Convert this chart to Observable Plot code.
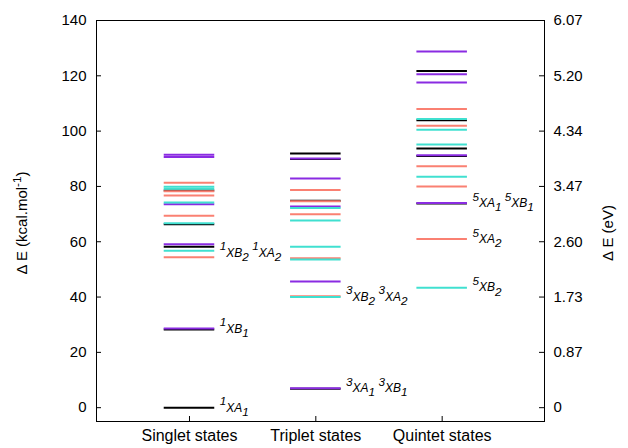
<!DOCTYPE html>
<html><head><meta charset="utf-8">
<script src="https://cdn.jsdelivr.net/npm/d3@7"></script>
<script src="https://cdn.jsdelivr.net/npm/@observablehq/plot@0.6"></script>
<style>body{margin:0;background:#fff}</style>
</head><body><div id="chart"></div>
<script>
// Categories (x positions 1,2,3)
const categories = ["Singlet states", "Triplet states", "Quintet states"];
const stateX = [1, 2, 3];

// Left axis ticks (kcal/mol) and right axis tick labels (eV)
const kcalTicks = [0, 20, 40, 60, 80, 100, 120, 140];
const eVTickLabels = ["0", "0.87", "1.73", "2.60", "3.47", "4.34", "5.20", "6.07"];

// Energy levels (kcal/mol) by spin state and symmetry
const singletA1 = [0, 28.3, 58.2, 66.3, 78.5];
const singletA2 = [54.4, 69.4, 76.7, 78.3, 81.3];
const singletB1 = [28.6, 59.1, 73.6, 90.6, 91.5];
const singletB2 = [56.7, 66.7, 74.2, 79.2, 79.9];

const tripletA1 = [6.8, 74.8, 89.9, 91.9];
const tripletA2 = [40.3, 54.0, 69.9, 74.6, 78.7];
const tripletB1 = [7.0, 45.6, 72.7, 82.9, 90.1];
const tripletB2 = [40.0, 53.6, 58.2, 67.7, 72.2];

const quintetA1 = [73.8, 91.0, 93.7, 103.9, 121.7];
const quintetA2 = [61.0, 80.0, 87.3, 101.9, 108.0];
const quintetB1 = [74.0, 91.3, 117.6, 120.6, 128.8];
const quintetB2 = [43.4, 83.5, 95.2, 100.5, 104.4];

// State labels
const labelText = ["¹XA₁", "¹XB₁", "¹XB₂ ¹XA₂", "³XA₁ ³XB₁", "³XB₂ ³XA₂", "⁵XA₁ ⁵XB₁", "⁵XA₂", "⁵XB₂"];
const labelState = [1, 1, 1, 2, 2, 3, 3, 3];
const labelE = [0, 28.5, 56.0, 7.0, 40.1, 73.9, 61.0, 43.4];

const yTitle = "Δ E (kcal.mol⁻¹)";
const y2Title = "Δ E (eV)";

const symColors = {A1: "#000000", A2: "#fa8072", B1: "#8a2be2", B2: "#40e0d0"};
const halfWidth = 0.2;

function rowsFor(sym, lists) {
  const out = [];
  lists.forEach((vals, i) => vals.forEach(e => out.push({x: stateX[i], e, sym})));
  return out;
}
const A1 = rowsFor("A1", [singletA1, tripletA1, quintetA1]);
const A2 = rowsFor("A2", [singletA2, tripletA2, quintetA2]);
const B1 = rowsFor("B1", [singletB1, tripletB1, quintetB1]);
const B2 = rowsFor("B2", [singletB2, tripletB2, quintetB2]);

const W = 628, H = 448, mL = 96, mR = 84, mT = 20, mB = 27;
const frameW = W - mL - mR, frameH = H - mT - mB;
const font = "'Liberation Sans', Arial, Helvetica, sans-serif";

const levelMark = (rows, sym) => Plot.ruleY(rows, {
  y: "e", x1: d => d.x - halfWidth, x2: d => d.x + halfWidth,
  stroke: symColors[sym], strokeWidth: 2
});

const chart = Plot.plot({
  width: W, height: H,
  marginLeft: mL, marginRight: mR, marginTop: mT, marginBottom: mB,
  style: {fontFamily: font, fontSize: "15px", background: "white", color: "black"},
  x: {domain: [0.264, 3.81], label: null},
  y: {domain: [-5, 140], label: null},
  marks: [
    levelMark(A1, "A1"),
    levelMark(A2, "A2"),
    levelMark(B1, "B1"),
    levelMark(B2, "B2"),
    Plot.tickY(kcalTicks, {y: d => d, insetRight: frameW - 5, stroke: "black"}),
    Plot.tickY(kcalTicks, {y: d => d, insetLeft: frameW - 5, stroke: "black"}),
    Plot.tickX(stateX, {x: d => d, insetTop: frameH - 5, stroke: "black"}),
    Plot.frame({stroke: "black"}),
    Plot.axisY(kcalTicks, {anchor: "left", tickSize: 0, tickPadding: 10, label: null, fontSize: 15}),
    Plot.axisY(kcalTicks, {anchor: "right", tickSize: 0, tickPadding: 9, label: null, fontSize: 15,
      tickFormat: d => eVTickLabels[kcalTicks.indexOf(d)]}),
    Plot.axisX(stateX, {tickSize: 0, tickPadding: 8, label: null, fontSize: 16,
      tickFormat: d => categories[stateX.indexOf(d)]}),
    Plot.text(labelText, {
      x: (d, i) => labelState[i] + halfWidth, y: (d, i) => labelE[i], text: d => d,
      dx: 5, textAnchor: "start", fontStyle: "italic", fontSize: 12, fill: "black"
    }),
    Plot.text([yTitle], {frameAnchor: "left", textAnchor: "middle", text: d => d, dx: -74, dy: 2, rotate: -90, fontSize: 15, fill: "black"}),
    Plot.text([y2Title], {frameAnchor: "right", textAnchor: "middle", text: d => d, dx: 64, dy: 12, rotate: -90, fontSize: 15, fill: "black"})
  ]
});
document.getElementById("chart").appendChild(chart);

// Render Unicode super/subscripts as real raised/lowered tspans (gnuplot style)
const supChars = {"¹": "1", "³": "3", "⁵": "5", "⁻": "-"};
const subChars = {"₁": "1", "₂": "2"};
d3.select(chart).selectAll("text").each(function() {
  const el = this;
  if (el.querySelector("tspan")) return;
  const s = el.textContent;
  if (![...s].some(c => c in supChars || c in subChars)) return;
  const base = parseFloat(el.getAttribute("font-size")) || 15;
  const segs = [];
  for (const c of s) {
    const type = c in supChars ? "sup" : c in subChars ? "sub" : "n";
    const ch = type === "sup" ? supChars[c] : type === "sub" ? subChars[c] : c;
    if (segs.length && segs[segs.length - 1].type === type) segs[segs.length - 1].str += ch;
    else segs.push({type, str: ch});
  }
  el.textContent = "";
  let shift = 0;
  for (const seg of segs) {
    const t = document.createElementNS("http://www.w3.org/2000/svg", "tspan");
    const target = seg.type === "sup" ? -0.42 * base : seg.type === "sub" ? 0.28 * base : 0;
    const dyv = target - shift;
    if (dyv !== 0) t.setAttribute("dy", dyv.toFixed(2));
    shift = target;
    if (seg.type !== "n") t.setAttribute("font-size", (base * 0.78).toFixed(2));
    t.textContent = seg.str;
    el.appendChild(t);
  }
});
</script>
</body></html>
